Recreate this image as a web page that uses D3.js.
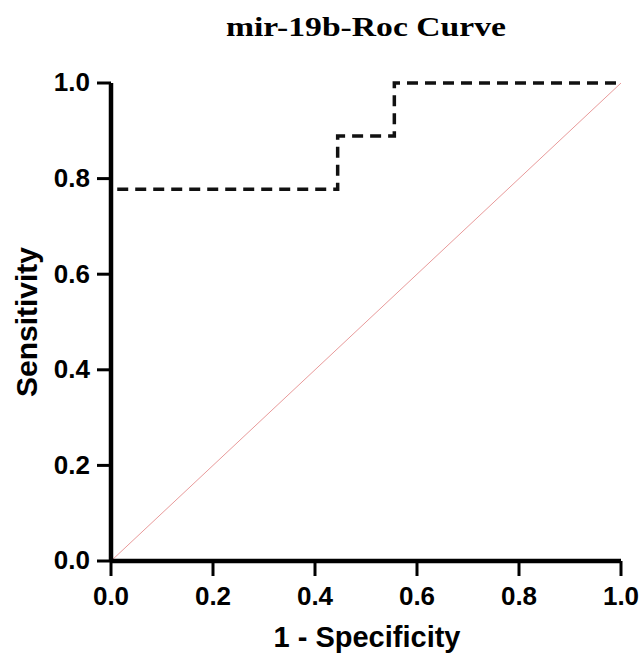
<!DOCTYPE html>
<html>
<head>
<meta charset="utf-8">
<script src="https://cdn.jsdelivr.net/npm/d3@7"></script>
<style>
  body { margin: 0; background: #fff; }
  .tick text { font-family: "Liberation Sans", Arial, sans-serif; font-weight: bold; font-size: 26px; fill: #000; }
</style>
</head>
<body>
<svg id="roc"></svg>
<script>
// ROC step points (1 - specificity, sensitivity)
const fpr = [0, 0, 4/9, 4/9, 5/9, 5/9, 1];
const tpr = [0, 7/9, 7/9, 8/9, 8/9, 1, 1];
// reference diagonal
const diagX = [0, 1];
const diagY = [0, 1];
const tickVals = [0, 0.2, 0.4, 0.6, 0.8, 1.0];

const W = 641, H = 658;
const margin = { top: 83, right: 20, bottom: 97, left: 111 },
    width = W - margin.left - margin.right,
    height = H - margin.top - margin.bottom;

const svg = d3.select("#roc")
    .attr("width", W)
    .attr("height", H)
    .append("g")
    .attr("transform", `translate(${margin.left},${margin.top})`);

const x = d3.scaleLinear().domain([0, 1]).range([0, width]);
const y = d3.scaleLinear().domain([0, 1]).range([height, 0]);

// diagonal chance line
svg.append("path")
    .datum(diagX.map((d, i) => [d, diagY[i]]))
    .attr("fill", "none")
    .attr("stroke", "#e89a9a")
    .attr("stroke-width", 1)
    .attr("d", d3.line().x(d => x(d[0])).y(d => y(d[1])));

// ROC curve, dashed
svg.append("path")
    .datum(fpr.map((d, i) => [d, tpr[i]]))
    .attr("fill", "none")
    .attr("stroke", "#111")
    .attr("stroke-width", 3.5)
    .attr("stroke-dasharray", "11,7")
    .attr("d", d3.line().x(d => x(d[0])).y(d => y(d[1])));

// axes
const xAxis = svg.append("g")
    .attr("transform", `translate(0,${height})`)
    .call(d3.axisBottom(x).tickValues(tickVals).tickFormat(d3.format(".1f"))
        .tickSize(15).tickSizeOuter(0).tickPadding(11).offset(0));

const yAxis = svg.append("g")
    .call(d3.axisLeft(y).tickValues(tickVals).tickFormat(d3.format(".1f"))
        .tickSize(14).tickSizeOuter(0).tickPadding(7).offset(0));

[xAxis, yAxis].forEach(g => {
    g.select(".domain").attr("stroke", "#000").attr("stroke-width", 4.5);
    g.selectAll(".tick line").attr("stroke", "#000").attr("stroke-width", 3);
});

// axis titles
svg.append("text")
    .attr("x", width / 2 + 1)
    .attr("y", height + 86)
    .attr("text-anchor", "middle")
    .style("font-family", "Liberation Sans, Arial, sans-serif")
    .style("font-weight", "bold")
    .style("font-size", "29px")
    .text("1 - Specificity");

svg.append("text")
    .attr("transform", "rotate(-90)")
    .attr("x", -239)
    .attr("y", -74)
    .attr("text-anchor", "middle")
    .style("font-family", "Liberation Sans, Arial, sans-serif")
    .style("font-weight", "bold")
    .style("font-size", "30px")
    .text("Sensitivity");

// chart title
svg.append("text")
    .attr("x", width / 2)
    .attr("y", -47)
    .attr("text-anchor", "middle")
    .attr("textLength", 280)
    .attr("lengthAdjust", "spacingAndGlyphs")
    .style("font-family", "Liberation Serif, Times New Roman, serif")
    .style("font-weight", "bold")
    .style("font-size", "27px")
    .text("mir-19b-Roc Curve");
</script>
</body>
</html>
